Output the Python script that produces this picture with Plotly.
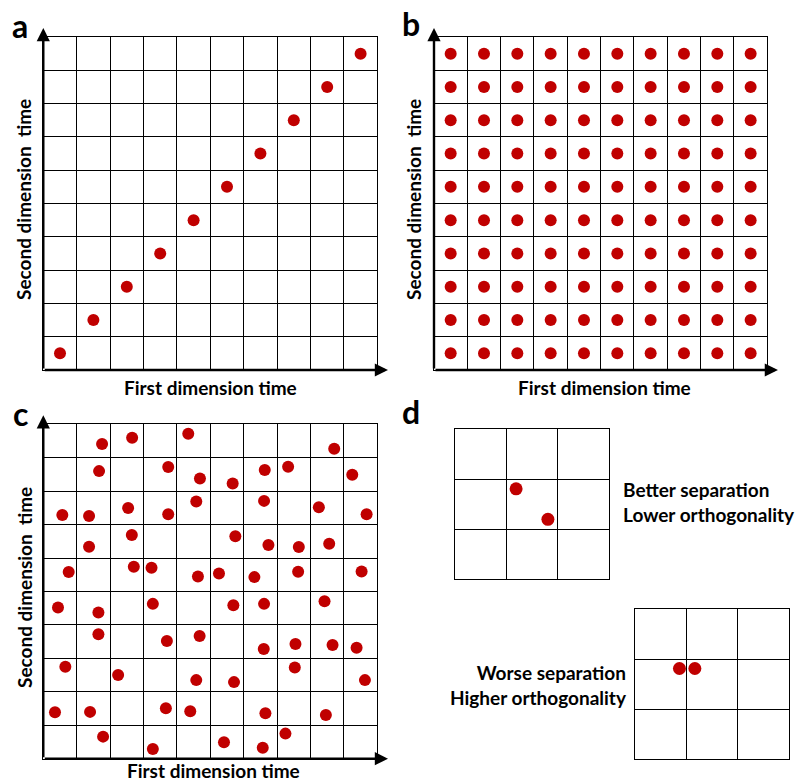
import plotly.graph_objects as go

W, H = 798, 782
RED = "#C00000"
FONT = "Lato"

# Panel a: one peak per row/column, along the diagonal
a_x = [0.5, 1.5, 2.5, 3.5, 4.5, 5.5, 6.5, 7.5, 8.5, 9.5]
a_y = [0.5, 1.5, 2.5, 3.5, 4.5, 5.5, 6.5, 7.5, 8.5, 9.5]

# Panel b: every cell of the 10x10 grid occupied
b_cols = [0.5, 1.5, 2.5, 3.5, 4.5, 5.5, 6.5, 7.5, 8.5, 9.5]
b_rows = [0.5, 1.5, 2.5, 3.5, 4.5, 5.5, 6.5, 7.5, 8.5, 9.5]

# Panel c: scattered peaks
c_x = [1.76, 2.66, 4.34, 8.71, 1.67, 3.74, 4.69, 5.67, 6.63, 7.33, 9.25,
       0.57, 1.37, 2.54, 3.74, 4.58, 6.61, 8.25, 9.68, 1.37, 2.65, 5.75,
       6.74, 7.65, 8.56, 0.76, 2.71, 3.24, 4.63, 5.26, 6.32, 7.63, 9.53,
       0.44, 1.65, 3.28, 5.69, 6.61, 8.42, 1.65, 3.70, 4.68, 6.60, 7.55,
       8.66, 9.38, 0.66, 2.24, 4.58, 5.71, 7.53, 9.63, 0.35, 1.40, 3.67,
       4.40, 6.65, 8.46, 1.79, 3.28, 5.41, 6.57, 7.25]
c_y = [9.41, 9.60, 9.72, 9.27, 8.60, 8.72, 8.38, 8.23, 8.63, 8.73, 8.49,
       7.29, 7.26, 7.50, 7.31, 7.69, 7.71, 7.52, 7.31, 6.34, 6.69, 6.65,
       6.39, 6.33, 6.43, 5.58, 5.74, 5.71, 5.45, 5.54, 5.43, 5.59, 5.60,
       4.52, 4.37, 4.63, 4.59, 4.63, 4.71, 3.72, 3.52, 3.67, 3.28, 3.43,
       3.40, 3.32, 2.75, 2.50, 2.35, 2.29, 2.73, 2.35, 1.39, 1.40, 1.51,
       1.42, 1.36, 1.31, 0.66, 0.29, 0.49, 0.33, 0.75]

# Panel d: two peak pairs on 3x3 grids
d1_x = [1.19, 1.81]
d1_y = [1.81, 1.20]
d2_x = [0.86, 1.16]
d2_y = [1.81, 1.81]

x_title = "First dimension time"
y_title = "Second dimension\u00a0\u00a0time"
d_top_text = "Better separation<br>Lower orthogonality"
d_bot_text = "Worse separation<br>Higher orthogonality"

b_x = [c for r in b_rows for c in b_cols]
b_y = [r for r in b_rows for c in b_cols]


def px_x(v):
    return v / W


def px_y(v):
    return 1 - v / H


# axis id -> (x domain in px, y domain in px (top, bottom), cells)
panels = {
    1: ((43.3, 377.3), (37, 370), 10),
    2: ((434, 767.3), (37, 370), 10),
    3: ((43.3, 377.3), (424.3, 758.7), 10),
    4: ((455, 609), (429.3, 579.3), 3),
    5: ((635.3, 789.3), (609, 759), 3),
}

fig = go.Figure()
data = {1: (a_x, a_y, 12), 2: (b_x, b_y, 12), 3: (c_x, c_y, 12),
        4: (d1_x, d1_y, 13), 5: (d2_x, d2_y, 13)}

layout = {}
for k, ((x0, x1), (yt, yb), n) in panels.items():
    suffix = "" if k == 1 else str(k)
    xs, ys, sz = data[k]
    fig.add_trace(go.Scatter(
        x=xs, y=ys, mode="markers", xaxis="x" + suffix, yaxis="y" + suffix,
        marker=dict(color=RED, size=sz, line=dict(width=0)),
        hoverinfo="skip", showlegend=False))
    common = dict(range=[0, n], dtick=1, tick0=0, showgrid=True,
                  gridcolor="black", gridwidth=1, zeroline=False,
                  showticklabels=False, ticks="", showline=True,
                  linecolor="black", linewidth=1.3, mirror=True,
                  fixedrange=True)
    layout["xaxis" + suffix] = dict(common, domain=[px_x(x0), px_x(x1)],
                                    anchor="y" + suffix)
    layout["yaxis" + suffix] = dict(common, domain=[px_y(yb), px_y(yt)],
                                    anchor="x" + suffix)

fig.update_layout(**layout)

ann = []
# arrowed axes on panels a, b, c
for k in (1, 2, 3):
    suffix = "" if k == 1 else str(k)
    xr, yr = "x" + suffix, "y" + suffix
    for (hx, hy) in ((10.32, 0), (0, 10.27)):
        ann.append(dict(x=hx, y=hy, ax=0, ay=0, xref=xr, yref=yr,
                        axref=xr, ayref=yr, text="", showarrow=True,
                        arrowhead=2, arrowsize=1.1, arrowwidth=2.4,
                        arrowcolor="black", standoff=0, startstandoff=0))

title_font = dict(family=FONT, size=19, color="black", weight="bold")

# axis titles
for cx, ty in ((210, 387), (604, 387), (213, 770)):
    ann.append(dict(x=px_x(cx), y=px_y(ty), xref="paper", yref="paper",
                    text=x_title, showarrow=False, xanchor="center",
                    yanchor="middle", font=title_font))
for cx, cy in ((24, 200), (414, 200), (24, 588)):
    ann.append(dict(x=px_x(cx), y=px_y(cy), xref="paper", yref="paper",
                    text=y_title, showarrow=False, textangle=-90,
                    xanchor="center", yanchor="middle", font=title_font))

# panel letters
for lab, cx, cy in (("a", 20, 25), ("b", 411, 23), ("c", 20, 413),
                    ("d", 411, 411)):
    ann.append(dict(x=px_x(cx), y=px_y(cy), xref="paper", yref="paper",
                    text=lab, showarrow=False, xanchor="center",
                    yanchor="middle",
                    font=dict(family=FONT, size=32, color="black",
                              weight="bold")))

# panel d captions
cap_font = dict(family=FONT, size=19, color="black", weight="bold")
ann.append(dict(x=px_x(621), y=px_y(502), xref="paper", yref="paper",
                text=d_top_text, showarrow=False, xanchor="left",
                yanchor="middle", align="left", font=cap_font))
ann.append(dict(x=px_x(629), y=px_y(685), xref="paper", yref="paper",
                text=d_bot_text, showarrow=False, xanchor="right",
                yanchor="middle", align="right", font=cap_font))

fig.update_layout(
    width=W, height=H, margin=dict(l=0, r=0, t=0, b=0),
    paper_bgcolor="white", plot_bgcolor="white", annotations=ann,
    showlegend=False,
)

fig.write_html("out.html", config={"displayModeBar": False})
